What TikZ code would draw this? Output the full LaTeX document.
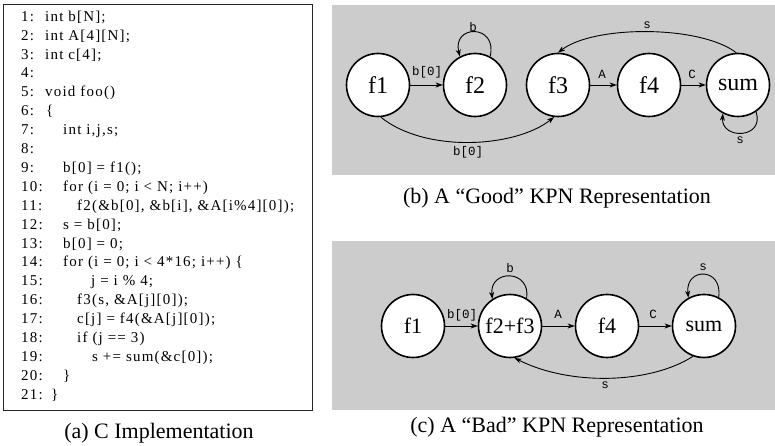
\documentclass[tikz,border=0pt]{standalone}
\usepackage{fontspec}
\setmainfont{Liberation Serif}
\setmonofont{Liberation Mono}
\newfontfamily\codefont[LetterSpace=8]{Liberation Serif}
\usetikzlibrary{arrows.meta}
\definecolor{panelgray}{RGB}{204,204,204}

\begin{document}
\begin{tikzpicture}[x=1pt,y=1pt,
  codeline/.style={anchor=mid west, inner sep=0pt, font=\codefont\fontsize{15}{15}\selectfont},
  caption/.style={inner sep=0pt, font=\fontsize{22}{22}\selectfont},
  procb/.style={circle, draw=black, line width=1.6pt, fill=white, minimum size=63pt,
    inner sep=0pt, font=\fontsize{24}{24}\selectfont},
  procc/.style={procb, font=\fontsize{22}{22}\selectfont},
  edge/.style={line width=0.9pt, -{Stealth[length=7pt,width=5pt,inset=2pt]}},
  lbl/.style={inner sep=0pt, font=\ttfamily\fontsize{12.5}{12.5}\selectfont}]
\useasboundingbox (0,0) rectangle (775,446);

% ---------------- (a) the C source listing ----------------
\draw[line width=0.8pt, draw=black!85] (3,442) rectangle (312,36);
\foreach \k in {1,...,21} {
  \node[codeline] (num\k) at (21,{427-(\k-1)*18.9}) {\k:};
}
\node[codeline] (c1)  at (45,{427- 0*18.9}) {int b[N];};
\node[codeline] (c2)  at (45,{427- 1*18.9}) {int A[4][N];};
\node[codeline] (c3)  at (45,{427- 2*18.9}) {int c[4];};
\node[codeline] (c5)  at (45,{427- 4*18.9}) {void foo()};
\node[codeline] (c6)  at (46,{427- 5*18.9}) {\{};
\node[codeline] (c7)  at (63,{427- 6*18.9}) {int i,j,s;};
\node[codeline] (c9)  at (63,{427- 8*18.9}) {b[0] = f1();};
\node[codeline] (c10) at (63,{427- 9*18.9}) {for (i = 0; i < N; i++)};
\node[codeline] (c11) at (77,{427-10*18.9}) {f2(\&b[0], \&b[i], \&A[i\%4][0]);};
\node[codeline] (c12) at (63,{427-11*18.9}) {s = b[0];};
\node[codeline] (c13) at (63,{427-12*18.9}) {b[0] = 0;};
\node[codeline] (c14) at (63,{427-13*18.9}) {for (i = 0; i < 4*16; i++) \{};
\node[codeline] (c15) at (91,{427-14*18.9}) {j = i \% 4;};
\node[codeline] (c16) at (77,{427-15*18.9}) {f3(s, \&A[j][0]);};
\node[codeline] (c17) at (77,{427-16*18.9}) {c[j] = f4(\&A[j][0]);};
\node[codeline] (c18) at (77,{427-17*18.9}) {if (j == 3)};
\node[codeline] (c19) at (92,{427-18*18.9}) {s += sum(\&c[0]);};
\node[codeline] (c20) at (63,{427-19*18.9}) {\}};
\node[codeline] (c21) at (51,{427-20*18.9}) {\}};
\node[caption] (capa) at (159,13) {(a) C Implementation};

% ---------------- (b) the good process network ----------------
\fill[panelgray] (332,441) rectangle (775,271);
\node[procb] (gf1)  at (378,361) {f1};
\node[procb] (gf2)  at (475,361) {f2};
\node[procb] (gf3)  at (558,361) {f3};
\node[procb] (gf4)  at (649,361) {f4};
\node[procb] (gsum) at (738,361) {sum};

\draw[edge] (gf1) -- (gf2);
\node[lbl] (gl1) at (427,374) {b[0]};
\draw[edge] (gf2.62) .. controls (498,422) and (452,422) .. (gf2.118);
\node[lbl] (gl2) at (473,419) {b};
\draw[edge] (gf1.-85) .. controls (425,293) and (515,298) .. (gf3.-97);
\node[lbl] (gl3) at (468,294) {b[0]};
\draw[edge] (gf3) -- (gf4);
\node[lbl] (gl4) at (602,372) {A};
\draw[edge] (gf4) -- (gsum);
\node[lbl] (gl5) at (692,372) {C};
\draw[edge] (gsum.93) .. controls (700,421) and (594,421) .. (gf3.90);
\node[lbl] (gl6) at (647,421) {s};
\draw[edge] (gsum.-56) .. controls (765,307) and (721,306) .. (gsum.-118);
\node[lbl] (gl7) at (740,306) {s};
\node[caption] (capb) at (557,248) {(b) A “Good” KPN Representation};

% ---------------- (c) the bad process network ----------------
\fill[panelgray] (332,205) rectangle (775,36);
\node[procc] (cf1)  at (413,120) {f1};
\node[procc] (cf23) at (510,120) {f2+f3};
\node[procc] (cf4)  at (607,120) {f4};
\node[procc] (csum) at (704,120) {sum};

\draw[edge] (cf1) -- (cf23);
\node[lbl] (cl1) at (462,131) {b[0]};
\draw[edge] (cf23.59) .. controls (531,177) and (489,177) .. (cf23.123);
\node[lbl] (cl2) at (510,178) {b};
\draw[edge] (cf23) -- (cf4);
\node[lbl] (cl3) at (558,132) {A};
\draw[edge] (cf4) -- (csum);
\node[lbl] (cl4) at (653,132) {C};
\draw[edge] (csum.63) .. controls (723,179) and (685,179) .. (csum.119);
\node[lbl] (cl5) at (703,179) {s};
\draw[edge] (csum.-110) .. controls (650,62) and (570,60) .. (cf23.-82);
\node[lbl] (cl6) at (605,61) {s};
\node[caption] (capc) at (557,19) {(c) A “Bad” KPN Representation};
\end{tikzpicture}
\end{document}
